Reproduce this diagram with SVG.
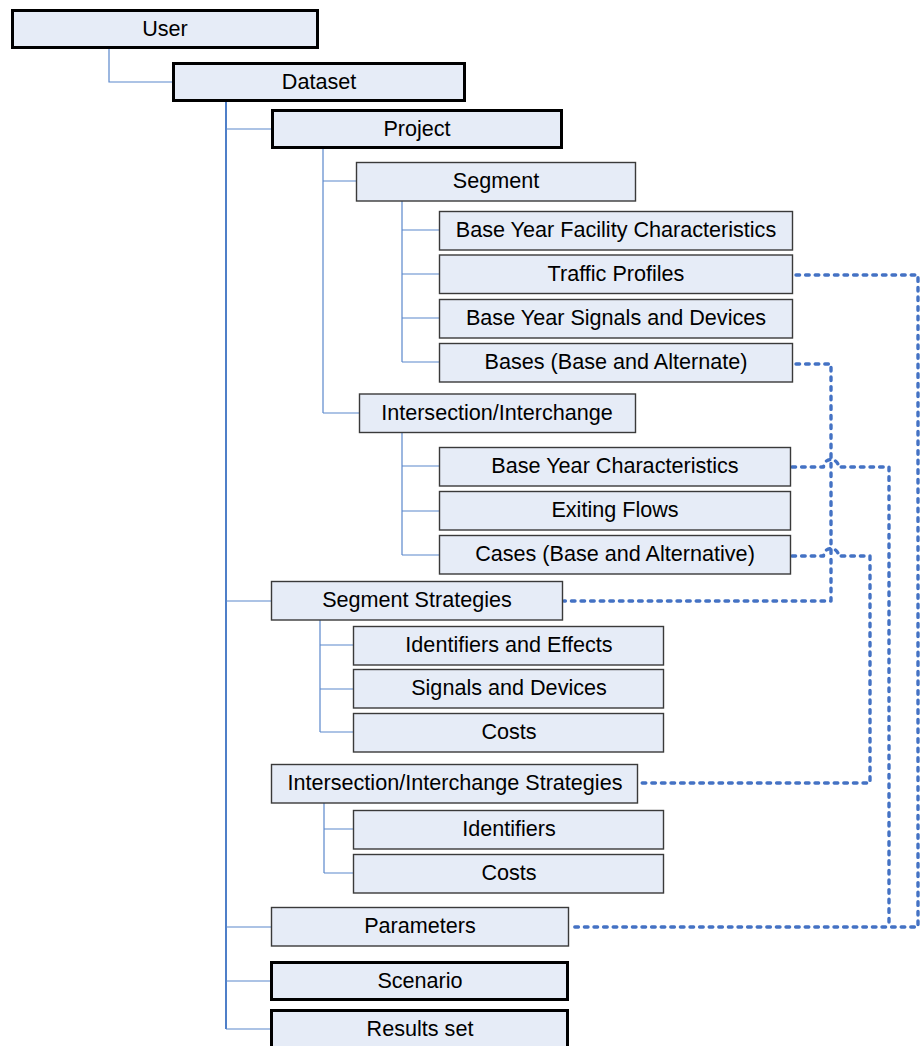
<svg xmlns="http://www.w3.org/2000/svg" width="923" height="1046" viewBox="0 0 923 1046">
  <style>
    .box { fill: #E6ECF7; stroke: #3a3a3a; stroke-width: 1.4; }
    .key { fill: #E6ECF7; stroke: #000; stroke-width: 3; }
    .lbl { font-family: "Liberation Sans", Arial, sans-serif; font-size: 21.6px; fill: #000; text-anchor: middle; }
    .tree { fill: none; stroke: #5B88CC; stroke-width: 1.2; }
    .trunk { fill: none; stroke: #4F7FC8; stroke-width: 2; }
    .link { fill: none; stroke: #4472C4; stroke-width: 3.4; stroke-dasharray: 3.6 6; stroke-linecap: round; stroke-linejoin: round; }
  </style>

  <rect width="923" height="1046" fill="#fff"/>

  <!-- hierarchy connectors -->
  <g id="connectors">
    <path class="tree" d="M109,49 V82 H172"/>
    <path class="trunk" d="M226,102 V1029"/>
    <path class="tree" d="M226,129 H271 M226,601 H271 M226,927 H271 M226,981 H270 M226,1029 H270"/>
    <path class="tree" d="M323,149 V413 M323,181 H356 M323,413 H359"/>
    <path class="tree" d="M402,201 V362 M402,230 H439 M402,274 H439 M402,318 H439 M402,362 H439"/>
    <path class="tree" d="M402,433 V555 M402,466 H439 M402,511 H439 M402,555 H439"/>
    <path class="tree" d="M320,620 V732 M320,645 H353 M320,689 H353 M320,732 H353"/>
    <path class="tree" d="M324,803 V873 M324,829 H353 M324,873 H353"/>

    <!-- dotted cross references -->
    <path class="link" d="M796,275 H918 V927 H570"/>
    <path class="link" d="M792,467 H823.5 A7.5,7.5 0 0 1 838.5,467 H889 V927"/>
    <path class="link" d="M796,364 H831 V601 H564"/>
    <path class="link" d="M792,556 H823.5 A7.5,7.5 0 0 1 838.5,556 H870 V783 H639"/>
  </g>

  <g id="user"><rect class="key" x="12.5" y="10.5" width="305" height="37"/><text class="lbl" x="165" y="35.5">User</text></g>
  <g id="dataset"><rect class="key" x="173.5" y="63.5" width="291" height="37"/><text class="lbl" x="319" y="88.5">Dataset</text></g>
  <g id="project"><rect class="key" x="272.5" y="110.5" width="289" height="37"/><text class="lbl" x="417" y="135.5">Project</text></g>

  <g id="segment"><rect class="box" x="356.5" y="162.5" width="279" height="38.5"/><text class="lbl" x="496" y="188">Segment</text></g>
  <g id="base-year-facility"><rect class="box" x="439.5" y="211.5" width="353" height="38.5"/><text class="lbl" x="616" y="237">Base Year Facility Characteristics</text></g>
  <g id="traffic-profiles"><rect class="box" x="439.5" y="255" width="353" height="38.5"/><text class="lbl" x="616" y="280.5">Traffic Profiles</text></g>
  <g id="base-year-signals"><rect class="box" x="439.5" y="299.5" width="353" height="38.5"/><text class="lbl" x="616" y="325">Base Year Signals and Devices</text></g>
  <g id="bases"><rect class="box" x="439.5" y="343.5" width="353" height="38.5"/><text class="lbl" x="616" y="369">Bases (Base and Alternate)</text></g>

  <g id="intersection"><rect class="box" x="359.5" y="394" width="276" height="38.5"/><text class="lbl" x="497" y="419.5">Intersection/Interchange</text></g>
  <g id="base-year-characteristics"><rect class="box" x="439.5" y="447.5" width="351" height="38.5"/><text class="lbl" x="615" y="473">Base Year Characteristics</text></g>
  <g id="exiting-flows"><rect class="box" x="439.5" y="491.5" width="351" height="38.5"/><text class="lbl" x="615" y="517">Exiting Flows</text></g>
  <g id="cases"><rect class="box" x="439.5" y="535.5" width="351" height="38.5"/><text class="lbl" x="615" y="561">Cases (Base and Alternative)</text></g>

  <g id="segment-strategies"><rect class="box" x="271.5" y="581.5" width="291" height="38.5"/><text class="lbl" x="417" y="607">Segment Strategies</text></g>
  <g id="identifiers-effects"><rect class="box" x="353.5" y="626.5" width="310" height="38.5"/><text class="lbl" x="509" y="652">Identifiers and Effects</text></g>
  <g id="signals-devices"><rect class="box" x="353.5" y="669.5" width="310" height="38.5"/><text class="lbl" x="509" y="695">Signals and Devices</text></g>
  <g id="segment-costs"><rect class="box" x="353.5" y="713.5" width="310" height="38.5"/><text class="lbl" x="509" y="739">Costs</text></g>

  <g id="intersection-strategies"><rect class="box" x="271.5" y="764.5" width="366" height="38.5"/><text class="lbl" x="455" y="790">Intersection/Interchange Strategies</text></g>
  <g id="identifiers"><rect class="box" x="353.5" y="810.5" width="310" height="38.5"/><text class="lbl" x="509" y="836">Identifiers</text></g>
  <g id="intersection-costs"><rect class="box" x="353.5" y="854.5" width="310" height="38.5"/><text class="lbl" x="509" y="880">Costs</text></g>

  <g id="parameters"><rect class="box" x="271.5" y="907.5" width="297" height="38.5"/><text class="lbl" x="420" y="933">Parameters</text></g>
  <g id="scenario"><rect class="key" x="271.5" y="962.5" width="296" height="37"/><text class="lbl" x="420" y="987.5">Scenario</text></g>
  <g id="results-set"><rect class="key" x="271.5" y="1010.5" width="296" height="40"/><text class="lbl" x="420" y="1035.5">Results set</text></g>
</svg>
